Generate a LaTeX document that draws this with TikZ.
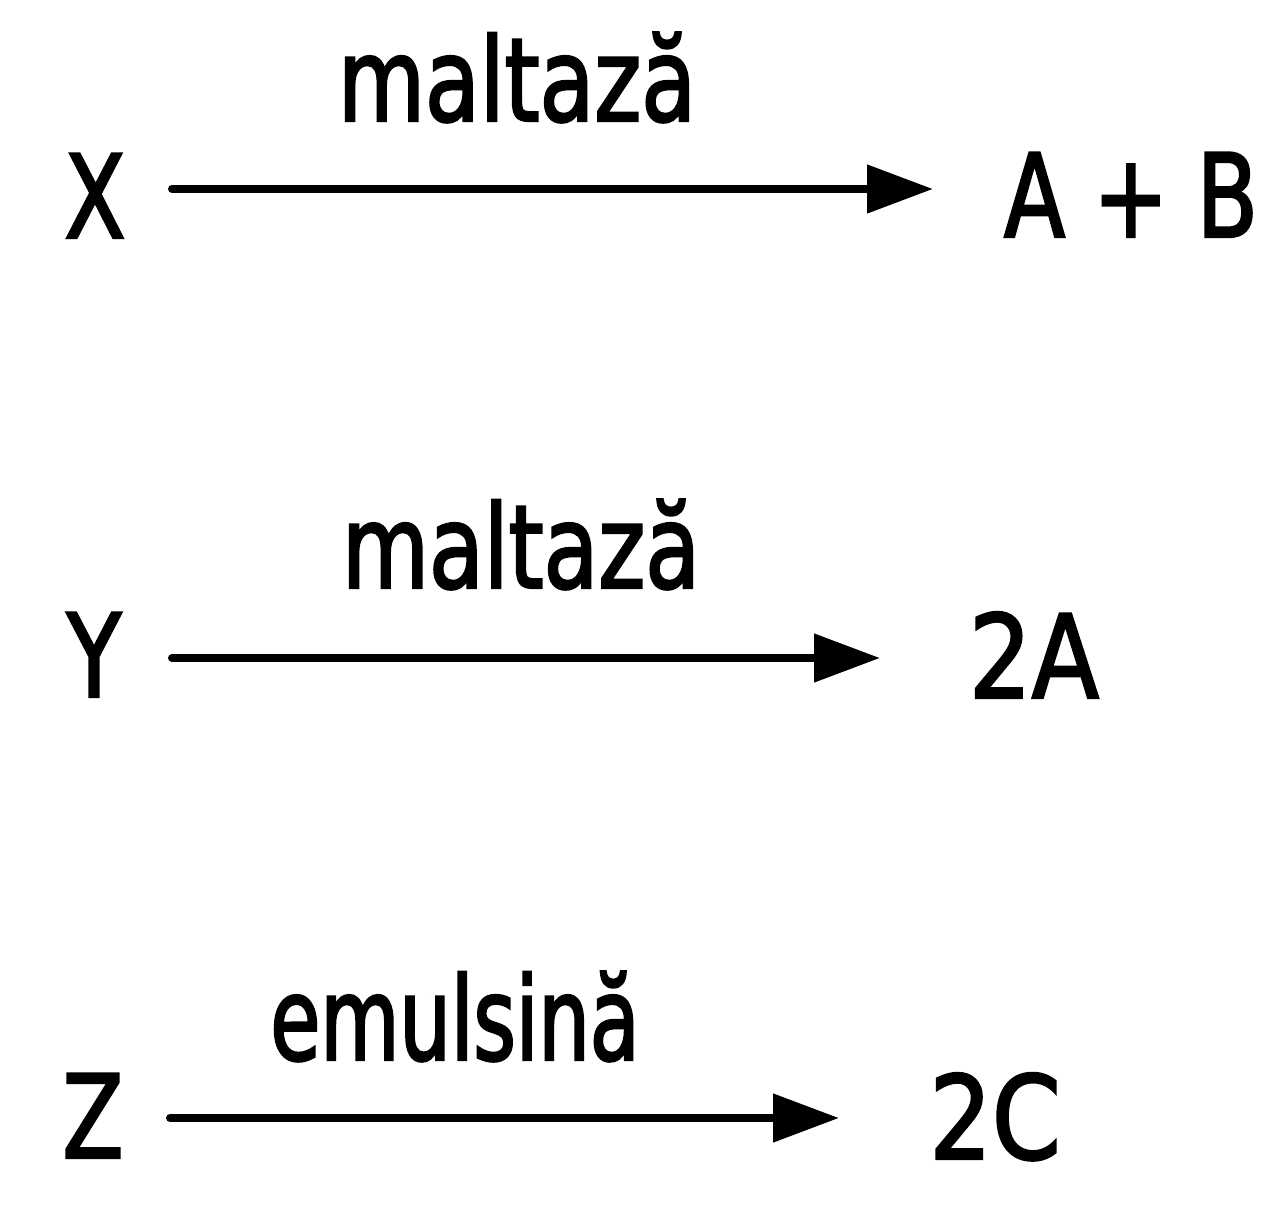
\documentclass[tikz,border=0pt]{standalone}
\usepackage{fontspec}
\setmainfont{DejaVu Sans}
\newfontfamily\lfont[FakeStretch=0.77,FakeBold=2]{DejaVu Sans}
\newfontfamily\lfontn[FakeStretch=0.70,FakeBold=2]{DejaVu Sans}
\newfontfamily\lfontd[FakeStretch=0.85,FakeBold=2]{DejaVu Sans}
\usetikzlibrary{arrows.meta}
\tikzset{
  lab/.style={inner sep=0pt, anchor=base, font=\lfont\fontsize{116}{120}\selectfont},
  labn/.style={lab, font=\lfontn\fontsize{116}{120}\selectfont},
  labd/.style={lab, font=\lfontd\fontsize{116}{120}\selectfont},
  rxn/.style={line width=8pt, line cap=round, -{Triangle[length=66pt,width=47pt]}}
}
\begin{document}
\begin{tikzpicture}[x=1pt,y=-1pt]
\path[use as bounding box, fill=white] (0,0) rectangle (1284,1225);
% row 1
\node[lab] (X) at (95,238) {X};
\node[lab] (e1) at (517,121) {maltază};
\node[lab] (AB) at (1131,237) {A + B};
\coordinate (s1) at (172,189);
\coordinate (t1) at (933,189);
\draw[rxn] (s1) -- (t1);
% row 2
\node[lab] (Y) at (94,697) {Y};
\node[lab] (e2) at (521,588) {maltază};
\node[labd] (A2) at (1034,698) {2A};
\coordinate (s2) at (172,658);
\coordinate (t2) at (880,658);
\draw[rxn] (s2) -- (t2);
% row 3
\node[lab] (Z) at (93,1158) {Z};
\node[labn] (e3) at (455,1060) {emulsină};
\node[labd] (C2) at (995,1159) {2C};
\coordinate (s3) at (170,1118);
\coordinate (t3) at (839,1118);
\draw[rxn] (s3) -- (t3);
\end{tikzpicture}
\end{document}
